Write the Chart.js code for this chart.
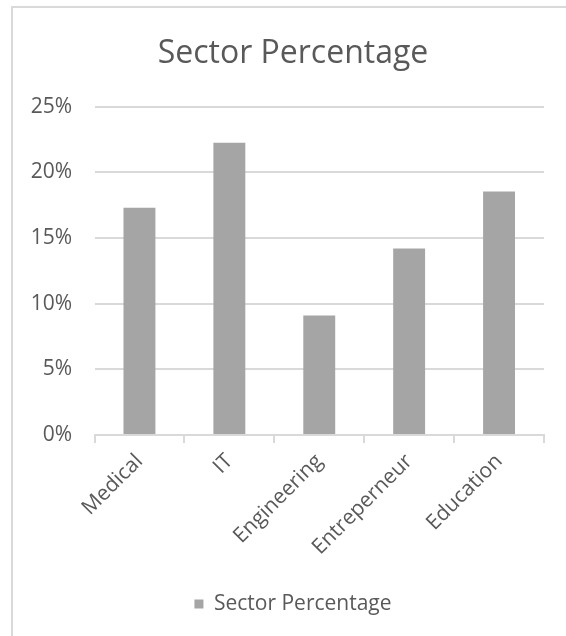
<!DOCTYPE html>
<html>
<head>
<meta charset="utf-8">
<script src="https://cdn.jsdelivr.net/npm/chart.js@4/dist/chart.umd.min.js"></script>
<style>
  html, body { margin: 0; padding: 0; width: 566px; height: 636px; overflow: hidden; background: #fff; }
  #frame { position: absolute; left: 11px; top: 6px; width: 600px; height: 660px; border-left: 2px solid #d9d9d9; border-top: 2px solid #d9d9d9; }
  #wrap { position: absolute; left: 0; top: 0; width: 560px; height: 628px; }
</style>
</head>
<body>
<div id="frame"><div id="wrap"><canvas id="c" width="560" height="628"></canvas></div></div>
<script>
const categories = ["Medical", "IT", "Engineering", "Entreperneur", "Education"];
const sectorPercentage = [17.3, 22.25, 9.1, 14.2, 18.55];
const yTicks = [0, 5, 10, 15, 20, 25];
const seriesName = "Sector Percentage";
const chartTitle = "Sector Percentage";

const textColor = "#595959";
const gridColor = "#d9d9d9";
const barColor = "#a5a5a5";
const fontFamily = "'Open Sans', 'Noto Sans', sans-serif";

new Chart(document.getElementById("c"), {
  type: "bar",
  data: {
    labels: categories,
    datasets: [{
      label: seriesName,
      data: sectorPercentage,
      backgroundColor: barColor,
      borderWidth: 0,
      categoryPercentage: 1,
      barPercentage: 0.355
    }]
  },
  options: {
    responsive: false,
    animation: false,
    devicePixelRatio: 1,
    layout: { padding: { left: 0, right: 0, top: 0, bottom: 11.5 } },
    plugins: {
      title: {
        display: true,
        text: chartTitle,
        color: textColor,
        font: { family: fontFamily, size: 32, weight: "normal", lineHeight: 1.2 },
        padding: { top: 26.5, bottom: 33.8 }
      },
      legend: {
        display: true,
        position: "bottom",
        labels: {
          color: textColor,
          font: { family: fontFamily, size: 21 },
          boxWidth: 9,
          boxHeight: 9,
          padding: 10
        }
      },
      tooltip: { enabled: false }
    },
    scales: {
      x: {
        grid: { display: true, offset: true, drawOnChartArea: false, drawTicks: true, tickLength: 8, color: gridColor, lineWidth: 2 },
        border: { display: true, color: gridColor, width: 2 },
        ticks: { color: textColor, font: { family: fontFamily, size: 21 }, minRotation: 45, maxRotation: 45, padding: 6, autoSkip: false },
        afterFit(s) { s.height = 148.5; }
      },
      y: {
        min: 0,
        max: 25,
        afterBuildTicks(s) { s.ticks = yTicks.map(v => ({ value: v })); },
        grid: { color: gridColor, lineWidth: 2, drawTicks: false },
        border: { display: false },
        ticks: { color: textColor, font: { family: fontFamily, size: 21 }, padding: 22.5, callback: v => v + "%" },
        afterFit(s) { s.width = 81.5; }
      },
      yR: {
        type: "linear",
        position: "right",
        display: true,
        grid: { display: false, drawTicks: false },
        border: { display: false },
        ticks: { display: false },
        afterFit(s) { s.width = 29; }
      }
    }
  }
});
</script>
</body>
</html>
